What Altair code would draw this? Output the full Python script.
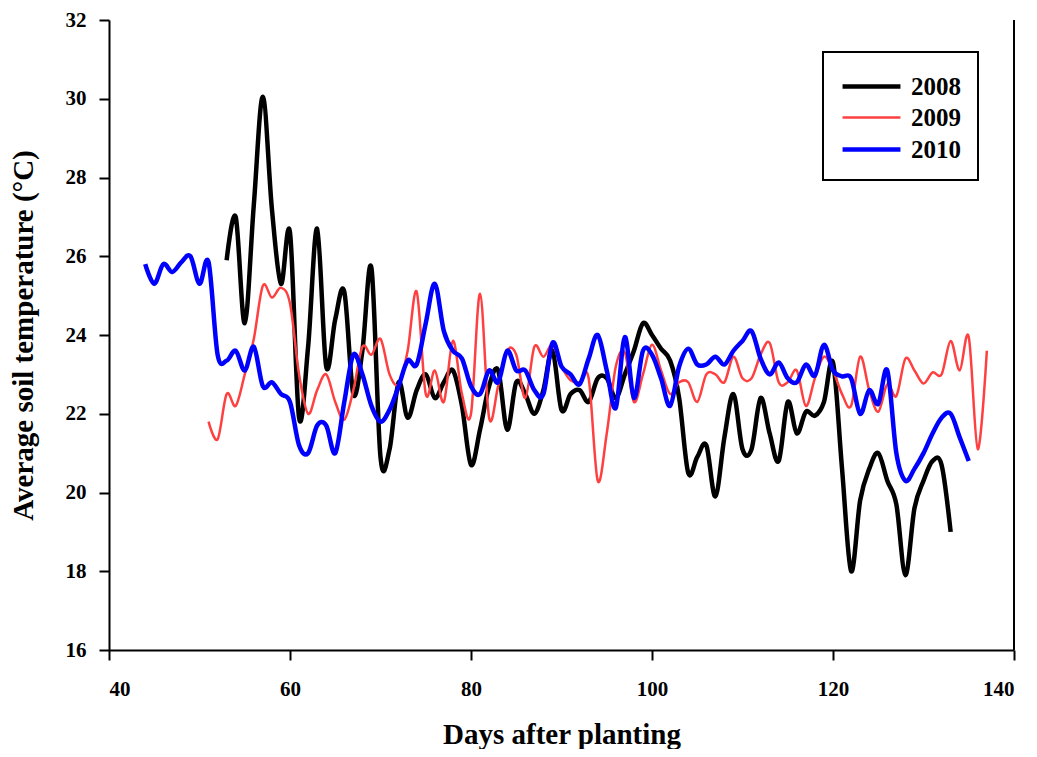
import altair as alt
import pandas as pd

years = ["2008", "2009", "2010"]
start_days = [53, 51, 44]

temp_2008 = [
    25.9, 27.0, 24.3, 27.3, 30.05, 27.2, 25.3, 26.6, 21.9, 23.7,
    26.7, 23.2, 24.4, 25.1, 22.5, 23.6, 25.7, 20.9, 21.1, 22.8,
    21.9, 22.6, 23.0, 22.4, 22.8, 23.1, 22.2, 20.7, 21.6, 22.7,
    23.1, 21.6, 22.8, 22.5, 22.0, 22.6, 23.6, 22.1, 22.5, 22.6,
    22.3, 22.9, 22.9, 22.4, 23.0, 23.6, 24.3, 24.0, 23.65, 23.35,
    22.4, 20.5, 20.9, 21.2, 19.9, 21.4, 22.5, 21.1, 21.1, 22.4,
    21.5, 20.8, 22.3, 21.5, 22.05, 21.95, 22.3, 23.3, 20.6, 18.0,
    19.8, 20.6, 21.0, 20.3, 19.7, 17.9, 19.6, 20.3, 20.8, 20.7,
    19.0,
]
temp_2009 = [
    21.8, 21.35, 22.5, 22.2, 23.0, 23.9, 25.25, 24.95, 25.2, 24.8,
    23.0, 22.0, 22.6, 23.0, 22.3, 21.85, 22.6, 23.7, 23.5, 23.9,
    23.0, 22.75, 23.6, 25.1, 22.5, 23.1, 22.3, 23.85, 22.5, 22.0,
    25.05, 21.9, 22.7, 23.6, 23.5, 22.4, 23.7, 23.45, 23.75, 23.2,
    22.85, 22.8, 22.9, 20.3, 21.5, 23.2, 23.55, 22.3, 23.0, 23.75,
    23.1, 22.5, 22.8, 22.8, 22.3, 23.0, 23.0, 22.8, 23.45, 22.9,
    22.9, 23.5, 23.8, 22.8, 22.8, 23.1, 22.2, 22.9, 23.45, 23.1,
    22.5, 22.2, 23.45, 22.6, 22.05, 22.75, 22.45, 23.4, 23.1, 22.77,
    23.05, 23.0, 23.85, 23.1, 23.95, 21.1, 23.6,
]
temp_2010 = [
    25.8, 25.3, 25.8, 25.6, 25.85, 26.0, 25.3, 25.85, 23.5, 23.35,
    23.6, 23.1, 23.7, 22.7, 22.8, 22.5, 22.3, 21.2, 21.0, 21.7,
    21.7, 21.0, 22.3, 23.5, 23.0, 22.2, 21.8, 22.1, 22.7, 23.35,
    23.25, 24.3, 25.3, 24.1, 23.6, 23.4, 22.7, 22.5, 23.1, 22.8,
    23.6, 23.1, 23.1, 22.6, 22.5, 23.8, 23.2, 23.0, 22.75, 23.4,
    24.0, 23.1, 22.15, 23.95, 22.4, 23.6, 23.5, 22.9, 22.2, 23.2,
    23.65, 23.25, 23.25, 23.45, 23.25, 23.6, 23.85, 24.1, 23.4, 23.0,
    23.3, 22.9, 22.8, 23.25, 22.97, 23.75, 23.1, 22.95, 22.9, 22.0,
    22.6, 22.25, 23.1, 21.0, 20.3, 20.6, 21.0, 21.5, 21.9, 22.0,
    21.4, 20.8,
]

x_ticks = [40, 60, 80, 100, 120, 140]
y_ticks = [16, 18, 20, 22, 24, 26, 28, 30, 32]
colors = ["#000000", "#ff4040", "#0000ff"]
widths = [4.5, 2.5, 4.5]

rows = []
for yr, d0, vals in zip(years, start_days, [temp_2008, temp_2009, temp_2010]):
    for i, v in enumerate(vals):
        rows.append({"year": yr, "day": d0 + i, "temp": v})
df = pd.DataFrame(rows)

font = "Liberation Serif"

xscale = alt.Scale(domain=[40, 140], nice=False, zero=False)
yscale = alt.Scale(domain=[16, 32], nice=False, zero=False)

legend = alt.Legend(
    title=None, orient="none", legendX=714, legendY=32,
    strokeColor="black", fillColor="white", padding=17, symbolOffset=14,
    symbolType="M-1.93,0H1.93", symbolSize=900, labelOffset=22, rowPadding=1,
    labelFont=font, labelFontWeight="bold", labelFontSize=25, labelColor="black",
)

lines = alt.Chart(df).mark_line(interpolate="cardinal").encode(
    x=alt.X("day:Q", scale=xscale,
            axis=alt.Axis(values=x_ticks, title="Days after planting", format="d")),
    y=alt.Y("temp:Q", scale=yscale,
            axis=alt.Axis(values=y_ticks, title="Average soil temperature (°C)", format="d")),
    color=alt.Color("year:N", scale=alt.Scale(domain=years, range=colors), legend=legend),
    strokeWidth=alt.StrokeWidth("year:N",
                                scale=alt.Scale(type="ordinal", domain=years, range=widths),
                                legend=legend),
    order=alt.Order("day:Q"),
)

right_edge = alt.Chart(df).mark_rule(color="black", strokeWidth=2).encode(
    x=alt.datum(140, scale=xscale)
)

chart = alt.layer(lines, right_edge).properties(
    width=905, height=630,
    autosize=alt.AutoSizeParams(type="none"),
    padding={"left": 101, "top": 12, "right": 5, "bottom": 99},
).configure_axis(
    domainColor="black", domainWidth=2, tickColor="black", tickWidth=2, tickSize=10,
    grid=False, labelFont=font, labelFontWeight="bold", labelFontSize=21, labelColor="black",
    titleFont=font, titleFontWeight="bold", titleFontSize=29, titleColor="black",
).configure_axisX(labelPadding=18, titleBaseline="alphabetic", titleY=93).configure_axisY(
    labelPadding=13, titlePadding=27
).configure_view(stroke=None).configure_legend(strokeWidth=2)

chart.save("out.html", embed_options={"renderer": "svg", "actions": False})
